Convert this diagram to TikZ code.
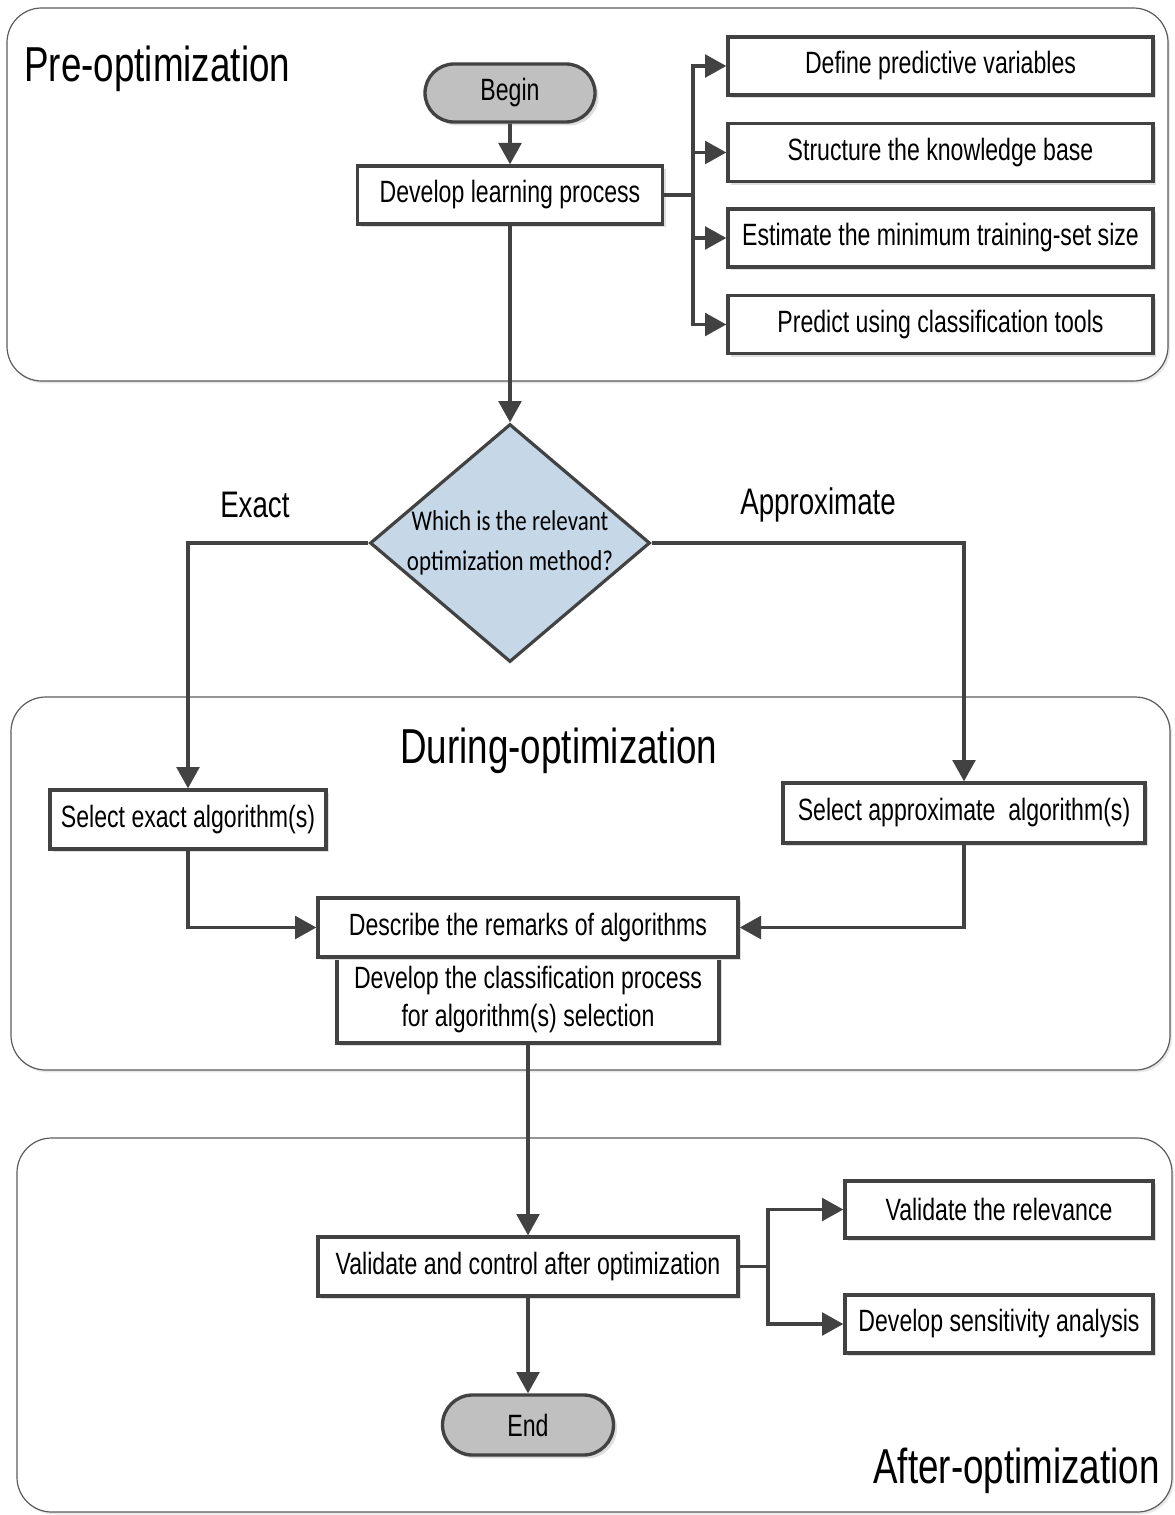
\documentclass[tikz,border=0pt]{standalone}
\usepackage{fontspec}
\setmainfont{Liberation Sans}[FakeStretch=0.75]
\newfontfamily\qfont{Carlito}[FakeStretch=0.8]
\usetikzlibrary{arrows.meta,shapes.geometric,shapes.misc,shadows}
\definecolor{ink}{HTML}{424242}
\definecolor{capsule}{HTML}{C0C0C0}
\definecolor{query}{HTML}{C6D8E8}
\definecolor{rim}{HTML}{5C5C5C}
\pgfdeclareverticalshading{afterfade}{100bp}{color(0bp)=(black!8); color(12bp)=(white); color(100bp)=(white)}

\begin{document}
\begin{tikzpicture}[x=0.75pt,y=-0.75pt,
  wh/.style 2 args={minimum width=#1*0.75pt, minimum height=#2*0.75pt},
  boxshadow/.style={drop shadow={shadow xshift=2.6pt, shadow yshift=-2.6pt, fill=black!13, opacity=1}},
  stepbox/.style={draw=ink, line width=2.5pt, fill=white, inner sep=0pt, align=center,
    font=\fontsize{23.1}{28.5}\selectfont, boxshadow},
  terminal/.style={rounded rectangle, draw=ink, line width=2.5pt, fill=capsule, inner sep=0pt,
    font=\fontsize{23.1}{26}\selectfont, boxshadow},
  question/.style={diamond, draw=ink, line width=2.4pt, fill=query, inner sep=0pt},
  phase/.style={draw=rim, line width=0.9pt, fill=white, rounded corners=26pt,
    drop shadow={shadow xshift=1.5pt, shadow yshift=-1.8pt, fill=black!9, opacity=1}},
  phasetitle/.style={font=\fontsize{36.8}{42}\selectfont, inner sep=0pt},
  branchtag/.style={font=\fontsize{27.7}{32}\selectfont, inner sep=0pt},
  wire/.style={draw=ink, line width=2.7pt},
  link/.style={wire, -{Triangle[length=16pt,width=17pt]}},
]
\path[use as bounding box] (0,0) rectangle (1174,1515);

% the three phase panels
\node[phase, wh={1161}{373}] (prepanel) at (587.5,194.5) {};
\node[phase, wh={1159}{373}] (duringpanel) at (590.5,883.5) {};
\node[phase, wh={1155}{374}, shading=afterfade] (afterpanel) at (594.5,1325) {};

\node[phasetitle, anchor=base west] (pretitle) at (24,82) {Pre-optimization};
\node[phasetitle, anchor=base west] (duringtitle) at (400,763) {During-optimization};
\node[phasetitle, anchor=base east] (aftertitle) at (1160,1483) {After-optimization};

% pre-optimization
\node[terminal, wh={170}{58}] (begin) at (510,93) {Begin};
\node[stepbox, wh={305}{58}] (learn) at (510,195) {Develop learning process};
\node[stepbox, wh={425}{58}] (vars) at (940.5,66) {Define predictive variables};
\node[stepbox, wh={425}{58}] (kbase) at (940.5,152.5) {Structure the knowledge base};
\node[stepbox, wh={425}{58}] (tsize) at (940.5,238) {Estimate the minimum training-set size};
\node[stepbox, wh={425}{58}] (predict) at (940.5,324.5) {Predict using classification tools};

% decision
\node[question, wh={280}{238},
  label={[font=\qfont\fontsize{21.5}{30}\selectfont, align=center]center:Which is the relevant\\optimization method?}]
  (method) at (510,543) {};
\node[branchtag, anchor=base west] (exacttag) at (220,517) {Exact};
\node[branchtag, anchor=base west] (approxtag) at (740,514) {Approximate};

% during-optimization
\node[stepbox, wh={276}{59}] (exact) at (188,819.5) {Select exact algorithm(s)};
\node[stepbox, wh={362}{60}] (approx) at (964,813) {Select approximate\ \ algorithm(s)};
\node[stepbox, wh={382}{86}] (classify) at (528,1000) {Develop the classification process\\for algorithm(s) selection};
\node[stepbox, wh={420}{59}] (remarks) at (528,927.5) {Describe the remarks of algorithms};

% after-optimization
\node[stepbox, wh={420}{59}] (validate) at (528,1266.5) {Validate and control after optimization};
\node[stepbox, wh={308}{57}] (relevance) at (999,1209.5) {Validate the relevance};
\node[stepbox, wh={308}{58}] (sensitivity) at (999,1324) {Develop sensitivity analysis};
\node[terminal, wh={171}{60}] (finish) at (528,1425) {End};

% connectors
\coordinate (learnfork) at (693,195);
\coordinate (checkfork) at (768,1266.5);

\draw[link] (begin) -- (learn);
\draw[wire] (learn.east) -- (learnfork);
\draw[link] (learnfork) |- (vars.west);
\draw[link] (learnfork) |- (kbase.west);
\draw[link] (learnfork) |- (tsize.west);
\draw[link] (learnfork) |- (predict.west);
\draw[link] (learn) -- (method);

\draw[link] (method.west) -| (exact.north);
\draw[link] (method.east) -| (approx.north);
\draw[link] (exact.south) |- (remarks.west);
\draw[link] (approx.south) |- (remarks.east);

\draw[link] (classify.south) -- (validate.north);
\draw[wire] (validate.east) -- (checkfork);
\draw[link] (checkfork) |- (relevance.west);
\draw[link] (checkfork) |- (sensitivity.west);
\draw[link] (validate.south) -- (finish.north);
\end{tikzpicture}
\end{document}
